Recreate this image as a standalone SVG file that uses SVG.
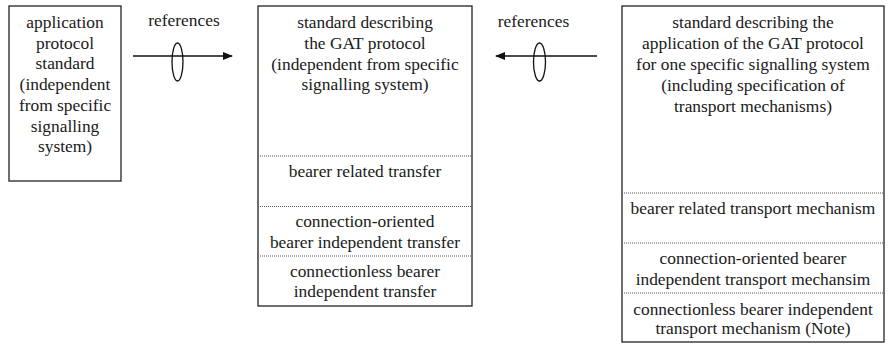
<svg xmlns="http://www.w3.org/2000/svg" width="890" height="345" viewBox="0 0 890 345">
<style>
text{font-family:"Liberation Serif","Times New Roman",serif;font-size:17.4px;fill:#1a1a1a;text-anchor:middle}
.box{fill:#fff;stroke:#222;stroke-width:1.3}
.sep{stroke:#555;stroke-width:1;stroke-dasharray:1 1}
.ln{stroke:#111;stroke-width:1.4;fill:none}
.ell{stroke:#111;stroke-width:1.3;fill:none}
</style>
<defs>
<marker id="ah" markerWidth="10" markerHeight="8" refX="9" refY="4" orient="auto" markerUnits="userSpaceOnUse">
<path d="M0,0 L10,4 L0,8 Z" fill="#111"/>
</marker>
</defs>
<rect width="890" height="345" fill="#fff"/>
<g id="app-standard">
<rect class="box" x="9" y="6" width="112" height="175"/>
<text x="65" y="28">application</text>
<text x="65" y="48.7">protocol</text>
<text x="65" y="69.4">standard</text>
<text x="65" y="90.1">(independent</text>
<text x="65" y="110.8">from specific</text>
<text x="65" y="131.5">signalling</text>
<text x="65" y="152.2">system)</text>
</g>
<g id="gat-standard">
<rect class="box" x="258" y="6" width="214" height="300"/>
<text x="365" y="28">standard describing</text>
<text x="365" y="48.8">the GAT protocol</text>
<text x="365" y="69.6">(independent from specific</text>
<text x="365" y="90.4">signalling system)</text>
<line class="sep" x1="258" y1="156" x2="472" y2="156"/>
<text x="365" y="177">bearer related transfer</text>
<line class="sep" x1="258" y1="206.5" x2="472" y2="206.5"/>
<text x="365" y="227">connection-oriented</text>
<text x="365" y="248">bearer independent transfer</text>
<line class="sep" x1="258" y1="256" x2="472" y2="256"/>
<text x="365" y="277">connectionless bearer</text>
<text x="365" y="296.5">independent transfer</text>
</g>
<g id="application-standard">
<rect class="box" x="622" y="6" width="262" height="336"/>
<text x="753" y="28">standard describing the</text>
<text x="753" y="49">application of the GAT protocol</text>
<text x="753" y="70">for one specific signalling system</text>
<text x="753" y="91">(including specification of</text>
<text x="753" y="111.5">transport mechanisms)</text>
<line class="sep" x1="622" y1="193" x2="884" y2="193"/>
<text x="753" y="214">bearer related transport mechanism</text>
<line class="sep" x1="622" y1="243" x2="884" y2="243"/>
<text x="753" y="264">connection-oriented bearer</text>
<text x="753" y="284.5">independent transport mechansim</text>
<line class="sep" x1="622" y1="293" x2="884" y2="293"/>
<text x="753" y="315">connectionless bearer independent</text>
<text x="753" y="334">transport mechanism (Note)</text>
</g>
<g id="connectors">
<text x="184" y="26">references</text>
<line class="ln" x1="133" y1="56" x2="232" y2="56" marker-end="url(#ah)"/>
<ellipse class="ell" cx="177.5" cy="62" rx="5.5" ry="19"/>
<text x="533.5" y="26.5">references</text>
<line class="ln" x1="597" y1="56" x2="496" y2="56" marker-end="url(#ah)"/>
<ellipse class="ell" cx="539.5" cy="62" rx="6" ry="19"/>
</g>
</svg>
